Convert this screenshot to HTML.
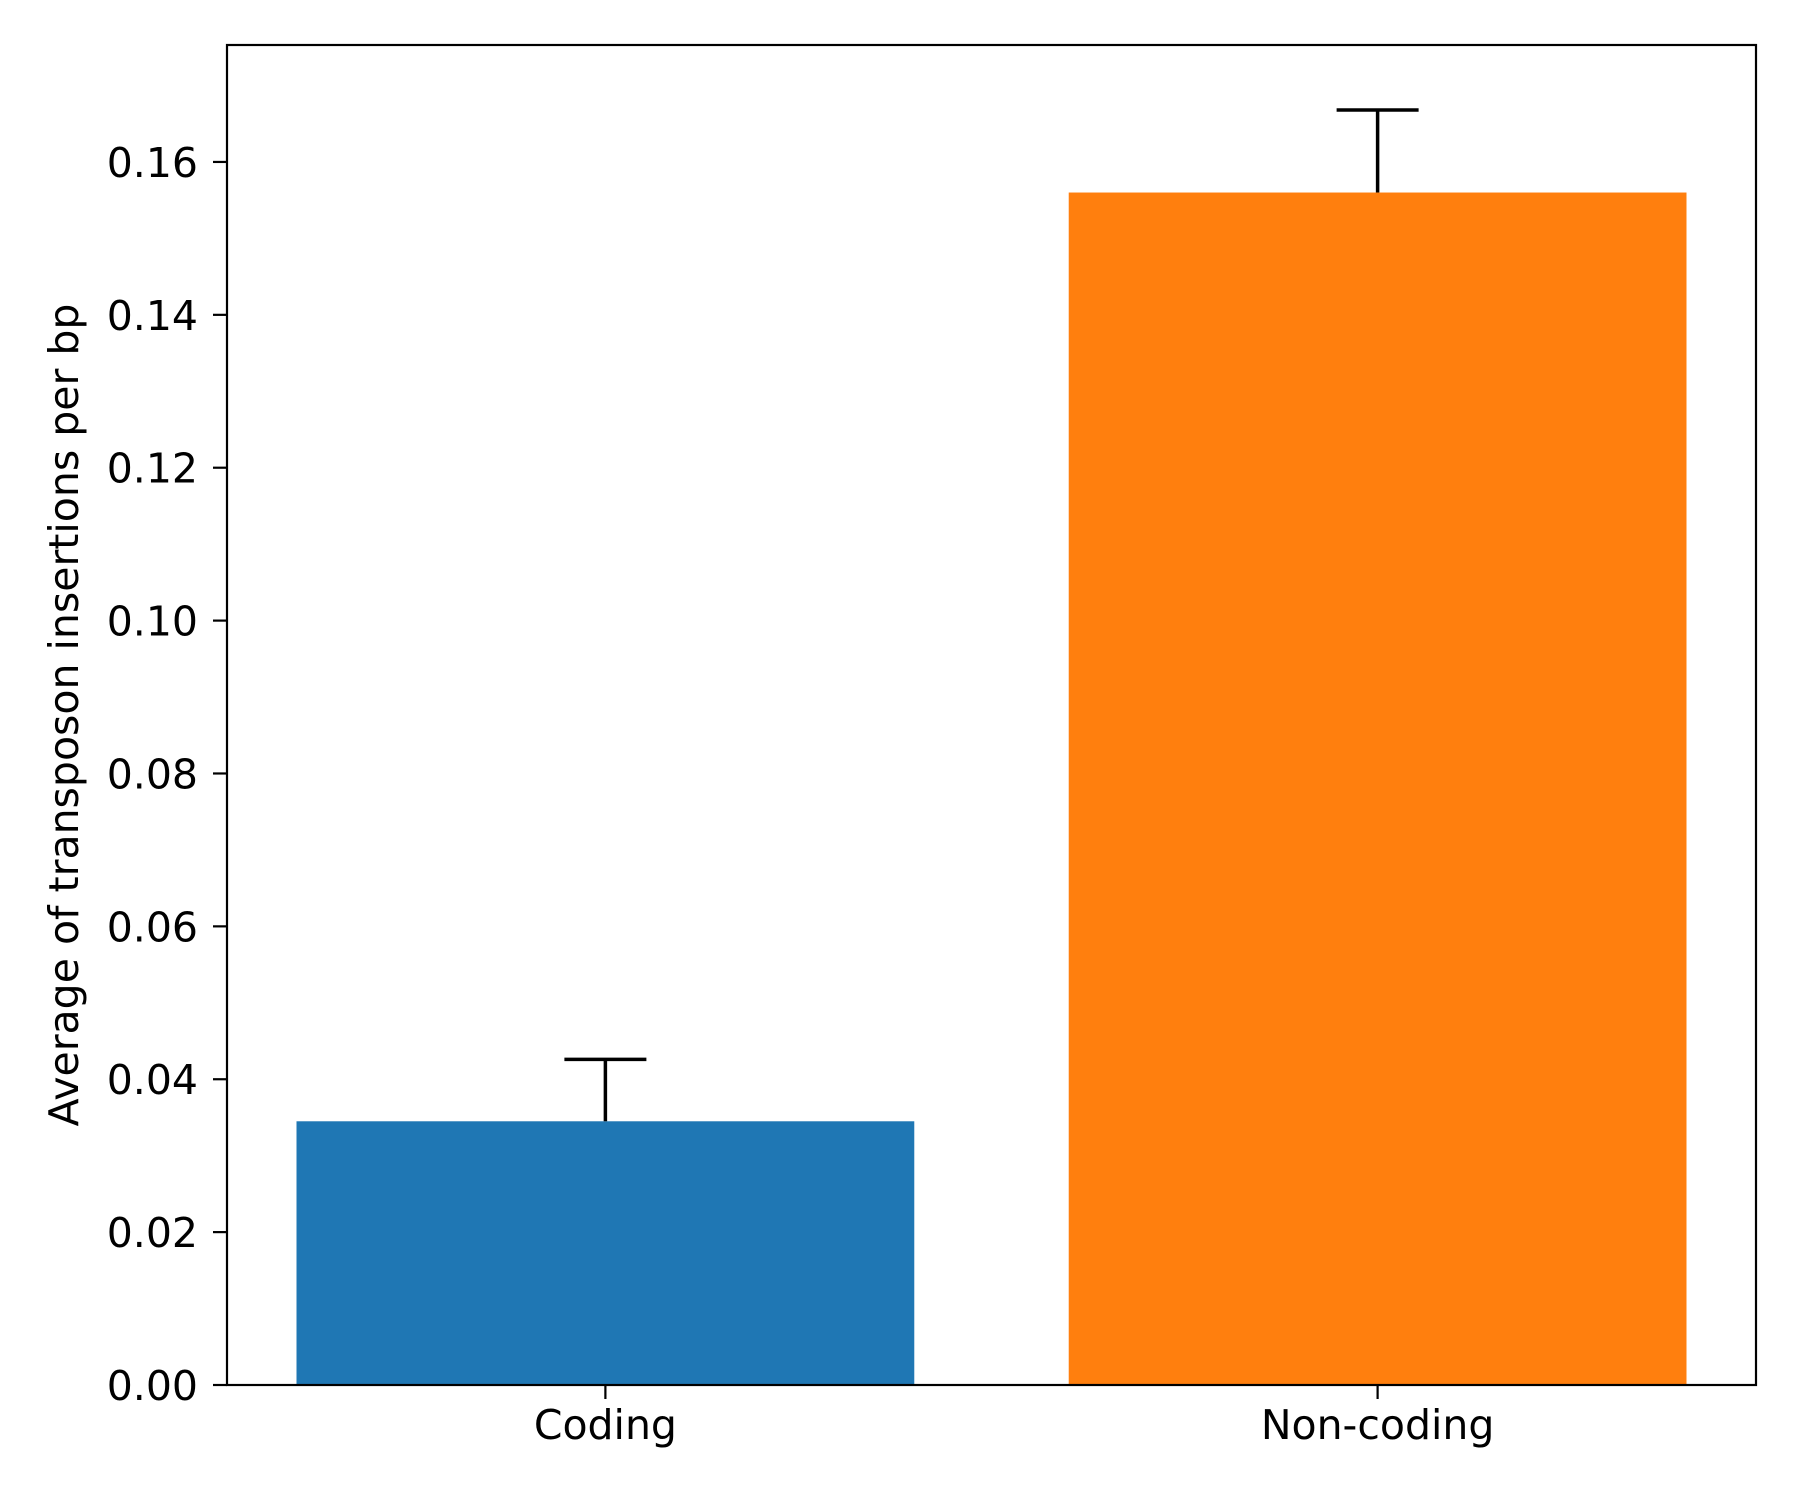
<!DOCTYPE html>
<html><head><meta charset="utf-8"><style>
html,body{margin:0;padding:0;background:#fff}
svg text{font-family:"DejaVu Sans","Liberation Sans",sans-serif;fill:#000}
</style></head><body>
<svg id="chart" width="1800" height="1500" xmlns="http://www.w3.org/2000/svg"></svg>
<script>
const categories = ["Coding", "Non-coding"];
const values = [0.0345, 0.156];
const errors = [0.0081, 0.0108];
const colors = ["#1f77b4", "#ff7f0e"];
const yTicks = [0, 0.02, 0.04, 0.06, 0.08, 0.10, 0.12, 0.14, 0.16];
const yTickLabels = ["0.00","0.02","0.04","0.06","0.08","0.10","0.12","0.14","0.16"];

const L=227, R=1756, T=45, B=1385;
const yMax=0.1753, xMin=-0.49, xMax=1.49;
const ns="http://www.w3.org/2000/svg";
const svg=document.getElementById('chart');
const y=v=>B-(v/yMax)*(B-T);
const x=v=>L+(v-xMin)/(xMax-xMin)*(R-L);
function mk(t,a){const e=document.createElementNS(ns,t);for(const k in a)e.setAttribute(k,a[k]);svg.appendChild(e);return e;}

categories.forEach((c,i)=>{
  const b=mk('rect',{x:x(i-0.4),y:y(values[i]),width:x(i+0.4)-x(i-0.4),height:B-y(values[i]),fill:colors[i]});
  
  
  const top=y(values[i]+errors[i]);
  const el=mk('line',{x1:x(i),x2:x(i),y1:y(values[i]),y2:top,stroke:'#000','stroke-width':3.5});
  
  
  const cap=mk('line',{x1:x(i)-41,x2:x(i)+41,y1:top,y2:top,stroke:'#000','stroke-width':3.5});
  
  
  const tk=mk('line',{x1:x(i),x2:x(i),y1:B,y2:B+14,stroke:'#000','stroke-width':2.2});
  
  
  const lb=mk('text',{x:x(i),y:B+54,'font-size':41,'text-anchor':'middle'});
  lb.textContent=c;
  
  
});
yTicks.forEach((v,i)=>{
  const tk=mk('line',{x1:L-14,x2:L,y1:y(v),y2:y(v),stroke:'#000','stroke-width':2.2});
  
  
  const lb=mk('text',{x:L-29,y:y(v)+15,'font-size':41,'text-anchor':'end'});
  lb.textContent=yTickLabels[i];
  
  
});
const fr=mk('rect',{x:L,y:T,width:R-L,height:B-T,fill:'none',stroke:'#000','stroke-width':2.2});


const yl=mk('text',{x:0,y:0,'font-size':41,'text-anchor':'middle',transform:'translate(78,'+((T+B)/2)+') rotate(-90)'});
yl.textContent='Average of transposon insertions per bp';


</script>
</body></html>
